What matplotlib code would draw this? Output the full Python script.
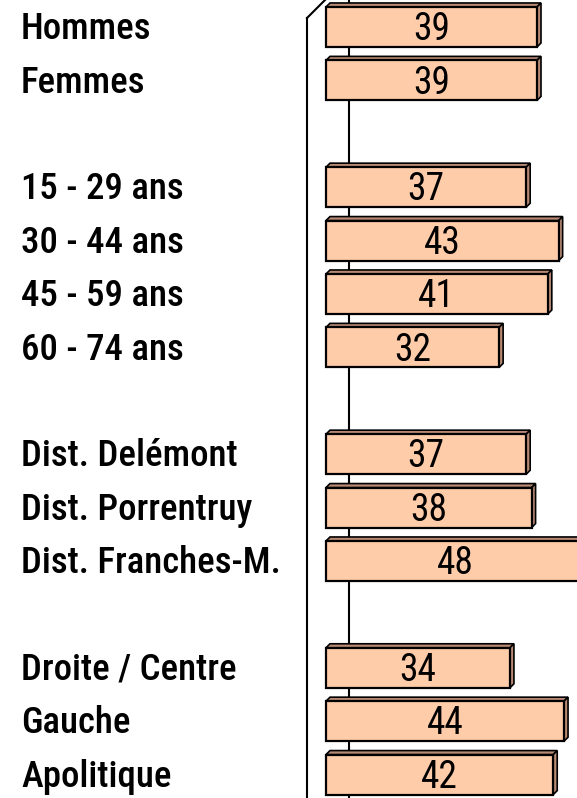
import matplotlib.pyplot as plt
from matplotlib import font_manager
from matplotlib.patches import Polygon

# categories and values (groups separated by an empty slot)
labels = ["Hommes", "Femmes",
          "15 - 29 ans", "30 - 44 ans", "45 - 59 ans", "60 - 74 ans",
          "Dist. Delémont", "Dist. Porrentruy", "Dist. Franches-M.",
          "Droite / Centre", "Gauche", "Apolitique"]
values = [39, 39, 37, 43, 41, 32, 37, 38, 48, 34, 44, 42]
slots = [0, 1, 3, 4, 5, 6, 8, 9, 10, 12, 13, 14]

FRONT = "#FFCCAA"
SHADE = "#B88A74"

# a narrow sans close to Arial Narrow, whichever is installed
installed = {f.name for f in font_manager.fontManager.ttflist}
narrow = [n for n in ["Roboto Condensed", "Archivo Narrow", "PT Sans Narrow"] if n in installed]
FONT = narrow[:1] + ["Liberation Sans", "DejaVu Sans"]

W, H = 577, 798
px_unit = 5.41      # pixels per percent
x0 = 326            # pixel of value 0
px_slot = 53.4      # pixels per row
y0 = 27             # pixel centre of first row

fig = plt.figure(figsize=(W / 100, H / 100), dpi=100)
ax = fig.add_axes([0, 0, 1, 1])
ax.set_xlim(-x0 / px_unit, (W - x0) / px_unit)
ax.set_ylim((H - y0) / px_slot, -y0 / px_slot)
ax.axis("off")

bar_h = 0.75
dx = 4 / px_unit
dy = 4 / px_slot

# wall of the 3d chart
wall_front = (307 - x0) / px_unit
wall_back = (349 - x0) / px_unit
corner = (18 - y0) / px_slot
top_back = (18 - 42 - y0) / px_slot
ax.plot([wall_front, wall_front], [14.6, corner], color="black", lw=1.5, zorder=1)
ax.plot([wall_front, wall_back], [corner, top_back], color="black", lw=1.5, zorder=1)
ax.plot([wall_back, wall_back], [14.6, top_back], color="black", lw=1.5, zorder=1)

ax.barh(slots, values, height=bar_h, left=0, color=FRONT,
        edgecolor="black", linewidth=1.6, zorder=3)

for s, v in zip(slots, values):
    top = s - bar_h / 2
    bot = s + bar_h / 2
    top_face = [(0, top), (dx, top - dy), (v + dx, top - dy), (v, top)]
    side_face = [(v, top), (v + dx, top - dy), (v + dx, bot - dy), (v, bot)]
    for pts in (top_face, side_face):
        ax.add_patch(Polygon(pts, closed=True, facecolor=SHADE,
                             edgecolor="black", linewidth=1.2, zorder=2))
    ax.text(v / 2, s + 0.05, str(v), ha="center", va="center",
            fontsize=27, family=FONT, zorder=4)

label_x = (21 - x0) / px_unit
for s, lab in zip(slots, labels):
    ax.text(label_x, s + 0.04, lab, ha="left", va="center", fontsize=26.5,
            fontweight="medium", family=FONT)

fig.savefig("out.png", dpi=100)
